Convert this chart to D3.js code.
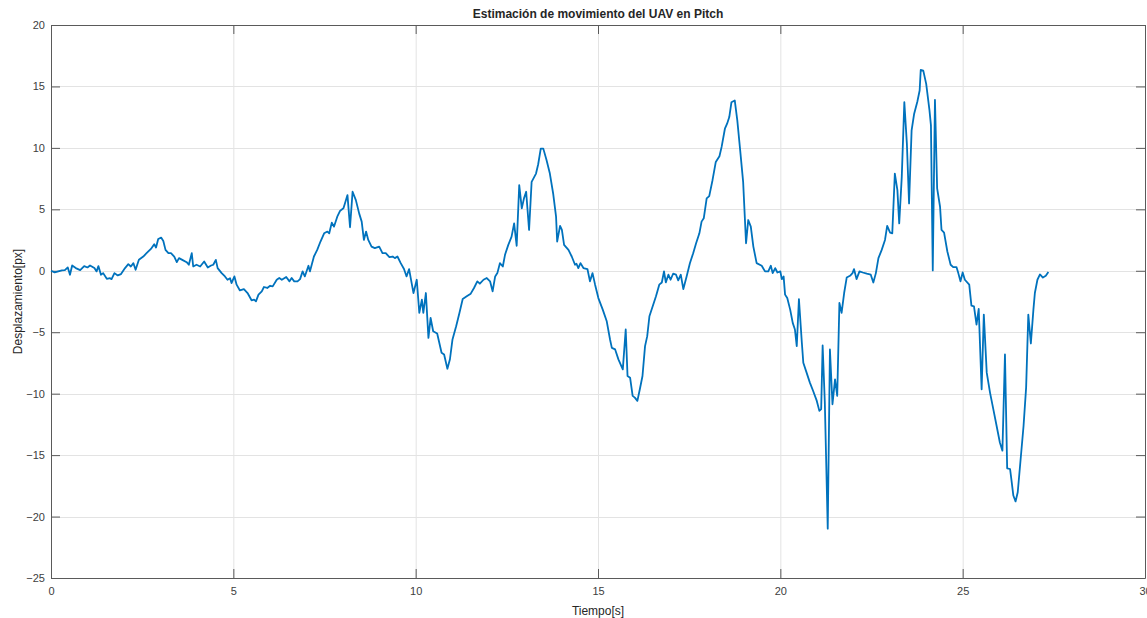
<!DOCTYPE html>
<html>
<head>
<meta charset="utf-8">
<script src="https://cdn.jsdelivr.net/npm/d3@7"></script>
<style>
  body { margin: 0; background: #fff; }
  svg { display: block; font-family: "Liberation Sans", Arial, Helvetica, sans-serif; }
</style>
</head>
<body>
<script>
// time [s]
var times = [
  0.00, 0.10, 0.20, 0.30, 0.38, 0.46, 0.52, 0.58, 0.68, 0.80, 0.91, 1.00, 1.07, 1.19, 1.25, 1.30, 1.37, 1.43, 1.53, 1.62,
  1.66, 1.74, 1.83, 1.92, 2.03, 2.12, 2.19, 2.26, 2.32, 2.41, 2.53, 2.62, 2.74, 2.83, 2.88, 2.94, 3.02, 3.08, 3.14, 3.22,
  3.29, 3.38, 3.45, 3.51, 3.60, 3.72, 3.78, 3.86, 3.90, 3.99, 4.09, 4.20, 4.30, 4.39, 4.45, 4.52, 4.57, 4.68, 4.77, 4.84,
  4.91, 4.95, 5.03, 5.09, 5.18, 5.29, 5.39, 5.50, 5.57, 5.62, 5.69, 5.78, 5.84, 5.93, 6.01, 6.08, 6.19, 6.26, 6.33, 6.45,
  6.54, 6.60, 6.67, 6.76, 6.83, 6.90, 6.96, 7.06, 7.10, 7.21, 7.30, 7.39, 7.49, 7.58, 7.63, 7.70, 7.76, 7.85, 7.93, 8.02,
  8.06, 8.13, 8.20, 8.27, 8.36, 8.45, 8.52, 8.58, 8.64, 8.70, 8.79, 8.88, 9.00, 9.09, 9.18, 9.28, 9.37, 9.43, 9.50, 9.59,
  9.68, 9.75, 9.82, 9.89, 9.94, 10.03, 10.10, 10.17, 10.21, 10.28, 10.35, 10.41, 10.48, 10.59, 10.71, 10.78, 10.87, 10.94, 11.01, 11.11,
  11.20, 11.29, 11.40, 11.51, 11.60, 11.69, 11.76, 11.86, 11.95, 12.04, 12.11, 12.18, 12.24, 12.31, 12.39, 12.45, 12.54, 12.63, 12.70, 12.77,
  12.84, 12.91, 12.97, 13.03, 13.11, 13.18, 13.30, 13.36, 13.43, 13.50, 13.59, 13.68, 13.77, 13.85, 13.88, 13.96, 14.01, 14.07, 14.19, 14.28,
  14.37, 14.41, 14.46, 14.52, 14.60, 14.71, 14.78, 14.85, 14.92, 15.01, 15.13, 15.24, 15.33, 15.38, 15.47, 15.56, 15.68, 15.76, 15.81, 15.88,
  15.95, 16.01, 16.08, 16.15, 16.22, 16.29, 16.35, 16.41, 16.50, 16.59, 16.68, 16.75, 16.81, 16.86, 16.93, 16.99, 17.06, 17.14, 17.20, 17.27,
  17.34, 17.43, 17.52, 17.61, 17.69, 17.78, 17.84, 17.90, 17.98, 18.05, 18.14, 18.23, 18.33, 18.39, 18.48, 18.54, 18.60, 18.66, 18.75, 18.82,
  18.89, 18.98, 19.06, 19.12, 19.19, 19.26, 19.35, 19.49, 19.58, 19.67, 19.74, 19.79, 19.86, 19.92, 20.00, 20.04, 20.09, 20.13, 20.19, 20.27,
  20.34, 20.40, 20.45, 20.51, 20.59, 20.63, 20.72, 20.81, 20.90, 21.00, 21.07, 21.12, 21.16, 21.22, 21.30, 21.36, 21.43, 21.50, 21.56, 21.62,
  21.68, 21.75, 21.82, 21.91, 21.98, 22.02, 22.09, 22.17, 22.26, 22.37, 22.48, 22.55, 22.62, 22.69, 22.78, 22.87, 22.93, 23.01, 23.07, 23.14,
  23.21, 23.26, 23.33, 23.40, 23.47, 23.53, 23.60, 23.67, 23.76, 23.82, 23.85, 23.92, 24.00, 24.09, 24.13, 24.18, 24.24, 24.30, 24.38, 24.42,
  24.49, 24.58, 24.67, 24.74, 24.83, 24.88, 24.94, 25.00, 25.06, 25.18, 25.24, 25.31, 25.38, 25.44, 25.52, 25.58, 25.66, 25.75, 25.84, 25.93,
  26.02, 26.09, 26.16, 26.22, 26.30, 26.34, 26.39, 26.45, 26.51, 26.59, 26.67, 26.74, 26.80, 26.87, 26.94, 26.98, 27.05, 27.12, 27.20, 27.28,
  27.35
];

// displacement [px]
var values = [
  0.00, -0.13, -0.05, 0.03, 0.05, 0.27, -0.32, 0.43, 0.22, 0.05, 0.38, 0.27, 0.43, 0.22, -0.05, 0.38, -0.32, -0.19, -0.65, -0.60,
  -0.68, -0.19, -0.38, -0.27, 0.22, 0.54, 0.35, 0.62, 0.08, 0.89, 1.16, 1.43, 1.78, 2.16, 1.89, 2.59, 2.70, 2.43, 1.70, 1.43,
  1.43, 1.16, 0.70, 1.03, 0.89, 0.70, 0.49, 1.43, 0.35, 0.49, 0.35, 0.76, 0.27, 0.43, 0.49, 0.89, 0.22, -0.19, -0.46, -0.73,
  -0.60, -1.00, -0.46, -1.13, -1.60, -1.50, -1.81, -2.40, -2.35, -2.49, -1.94, -1.67, -1.32, -1.40, -1.22, -1.27, -0.73, -0.59, -0.73, -0.51,
  -0.86, -0.59, -0.86, -0.86, -0.68, -0.05, -0.46, 0.41, -0.05, 1.16, 1.70, 2.38, 3.05, 3.19, 3.05, 3.92, 3.59, 4.40, 4.89, 5.08,
  5.48, 6.16, 3.54, 6.43, 5.75, 4.67, 4.00, 2.51, 3.19, 2.51, 1.97, 1.84, 1.97, 1.43, 1.43, 1.11, 1.16, 1.03, 1.16, 0.62,
  0.14, -0.46, 0.14, -1.00, -1.81, -0.73, -3.43, -2.35, -3.43, -1.81, -5.46, -3.84, -4.92, -5.11, -6.67, -6.81, -7.97, -7.20, -5.59, -4.51,
  -3.43, -2.30, -2.08, -1.86, -1.40, -0.86, -1.05, -0.73, -0.59, -0.86, -1.67, -0.46, -0.19, 0.62, 0.35, 1.30, 2.11, 2.78, 3.86, 2.03,
  6.97, 5.08, 5.89, 6.43, 3.32, 7.24, 7.91, 8.67, 9.94, 9.94, 9.00, 7.91, 6.29, 4.40, 2.38, 3.65, 3.32, 2.11, 1.70, 1.16,
  0.49, 0.57, 0.22, 0.62, 0.22, 0.14, -0.86, -0.19, -1.13, -2.22, -3.16, -4.11, -5.59, -6.27, -6.40, -7.21, -8.02, -4.78, -8.56, -8.70,
  -10.18, -10.32, -10.59, -9.60, -8.56, -6.13, -5.32, -3.70, -2.89, -2.08, -1.13, -0.95, -0.05, -0.95, -0.32, -0.73, -0.24, -0.32, -0.78, -0.32,
  -1.49, -0.46, 0.62, 1.43, 2.24, 3.05, 4.00, 4.27, 5.89, 6.08, 7.37, 8.86, 9.32, 10.08, 11.56, 11.97, 12.51, 13.72, 13.86, 12.24,
  10.08, 7.24, 2.24, 4.13, 3.59, 1.97, 0.62, 0.41, -0.05, -0.05, 0.41, -0.19, 0.22, -0.14, -0.05, -0.68, -0.46, -1.94, -2.22, -3.16,
  -4.24, -4.78, -6.13, -2.30, -5.86, -7.48, -8.29, -9.10, -9.78, -10.59, -11.40, -11.26, -6.08, -10.72, -20.99, -6.40, -10.86, -8.83, -10.18, -2.62,
  -3.43, -1.81, -0.55, -0.41, -0.19, 0.14, -0.68, -0.05, -0.14, -0.24, -0.32, -0.95, -0.19, 1.03, 1.70, 2.51, 3.65, 3.11, 3.05, 7.91,
  6.56, 3.86, 7.64, 13.72, 10.35, 5.48, 11.43, 12.78, 13.80, 14.67, 16.34, 16.29, 15.21, 13.05, 11.83, 0.03, 13.91, 6.70, 5.21, 3.32,
  3.11, 1.57, 0.49, 0.30, 0.30, -0.19, -0.86, -0.14, -0.73, -1.13, -2.84, -2.89, -4.38, -3.11, -9.64, -3.57, -8.29, -9.91, -11.26, -12.61,
  -13.97, -14.64, -6.81, -16.07, -16.13, -17.07, -18.29, -18.77, -18.02, -15.32, -12.61, -9.51, -3.57, -5.92, -3.16, -1.81, -0.73, -0.30, -0.55, -0.40,
  -0.10
];

var xTicks = [0, 5, 10, 15, 20, 25, 30];
var yTicks = [-25, -20, -15, -10, -5, 0, 5, 10, 15, 20];

var titleText = "Estimación de movimiento del UAV en Pitch",
    xLabel = "Tiempo[s]",
    yLabel = "Desplazamiento[px]";

var W = 1147,
    H = 618,
    margin = {top: 25, right: 2, bottom: 40, left: 51},
    w = W - margin.left - margin.right,
    h = H - margin.top - margin.bottom;

var svg = d3.select("body").append("svg")
    .attr("width", W)
    .attr("height", H);

var g = svg.append("g")
    .attr("transform", "translate(" + margin.left + "," + margin.top + ")");

var x = d3.scaleLinear().domain([0, 30]).range([0, w]),
    y = d3.scaleLinear().domain([-25, 20]).range([h, 0]);

// grid
g.append("g").selectAll("line.gx")
    .data(xTicks.slice(1, -1))
  .enter().append("line")
    .attr("x1", function (d) { return x(d) + 0.5; })
    .attr("x2", function (d) { return x(d) + 0.5; })
    .attr("y1", 0)
    .attr("y2", h)
    .attr("stroke", "#e3e3e3");

g.append("g").selectAll("line.gy")
    .data(yTicks.slice(1, -1))
  .enter().append("line")
    .attr("x1", 0)
    .attr("x2", w)
    .attr("y1", function (d) { return Math.round(y(d)) + 0.5; })
    .attr("y2", function (d) { return Math.round(y(d)) + 0.5; })
    .attr("stroke", "#e3e3e3");

// axes, ticks point inwards like matlab
function styleAxis(sel) {
  sel.select(".domain").attr("stroke", "#5a5a5a");
  sel.selectAll(".tick line").attr("stroke", "#5a5a5a");
  sel.selectAll(".tick text")
    .attr("fill", "#404040")
    .style("font-size", "11px");
}

g.append("g")
    .attr("transform", "translate(0," + h + ")")
    .call(d3.axisBottom(x).tickValues(xTicks).tickSizeInner(-9).tickSizeOuter(0).tickPadding(9))
    .call(styleAxis);

g.append("g")
    .call(d3.axisTop(x).tickValues(xTicks).tickSizeInner(-9).tickSizeOuter(0).tickFormat(""))
    .call(styleAxis);

g.append("g")
    .call(d3.axisLeft(y).tickValues(yTicks).tickSizeInner(-9).tickSizeOuter(0).tickPadding(6))
    .call(styleAxis);

g.append("g")
    .attr("transform", "translate(" + w + ",0)")
    .call(d3.axisRight(y).tickValues(yTicks).tickSizeInner(-9).tickSizeOuter(0).tickFormat(""))
    .call(styleAxis);

// the signal
var line = d3.line()
    .x(function (d, i) { return x(times[i]); })
    .y(function (d) { return y(d); });

g.append("path")
    .datum(values)
    .attr("fill", "none")
    .attr("stroke", "#0072BD")
    .attr("stroke-width", 1.8)
    .attr("stroke-linejoin", "round")
    .attr("d", line);

// texts
svg.append("text")
    .attr("x", margin.left + w / 2)
    .attr("y", 18)
    .attr("text-anchor", "middle")
    .attr("fill", "#262626")
    .style("font-size", "12px")
    .style("font-weight", "bold")
    .text(titleText);

svg.append("text")
    .attr("x", margin.left + w / 2)
    .attr("y", 615)
    .attr("text-anchor", "middle")
    .attr("fill", "#262626")
    .style("font-size", "12px")
    .text(xLabel);

svg.append("text")
    .attr("transform", "translate(22," + (margin.top + h / 2) + ") rotate(-90)")
    .attr("text-anchor", "middle")
    .attr("fill", "#262626")
    .style("font-size", "12px")
    .text(yLabel);
</script>
</body>
</html>
